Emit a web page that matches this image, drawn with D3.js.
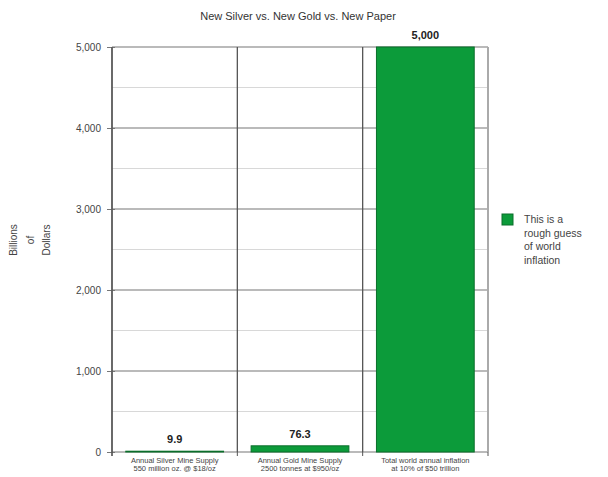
<!DOCTYPE html>
<html>
<head>
<meta charset="utf-8">
<script src="https://cdn.jsdelivr.net/npm/d3@7"></script>
<style>
  body { margin: 0; background: #fff; }
  text { font-family: "Liberation Sans", Arial, sans-serif; }
</style>
</head>
<body>
<div id="chart"></div>
<script>
const categories = ["silver", "gold", "paper"];
const categoryLines = [
  ["Annual Silver Mine Supply", "550 million oz. @ $18/oz"],
  ["Annual Gold Mine Supply", "2500 tonnes at $950/oz"],
  ["Total world annual inflation", "at 10% of $50 trillion"]
];
const values = [9.9, 76.3, 5000];
const valueLabels = ["9.9", "76.3", "5,000"];
const yTicks = [0, 1000, 2000, 3000, 4000, 5000];
const yMinorTicks = [500, 1500, 2500, 3500, 4500];
const legendLines = ["This is a", "rough guess", "of world", "inflation"];

const width = 608, height = 477;
const margin = { top: 47, right: 120, bottom: 25, left: 112 };
const innerW = width - margin.left - margin.right;
const innerH = height - margin.top - margin.bottom;

const svg = d3.select("#chart").append("svg")
  .attr("width", width)
  .attr("height", height);

const g = svg.append("g").attr("transform", `translate(${margin.left},${margin.top})`);

const x = d3.scaleBand().domain(categories).range([0, innerW]).paddingInner(0.22).paddingOuter(0.11);
const y = d3.scaleLinear().domain([0, 5000]).range([innerH, 0]);
const step = x.step();
const x0 = x(categories[0]) - x.paddingOuter() * step;

// minor grid
g.selectAll(".minor").data(yMinorTicks).enter().append("line")
  .attr("x1", 0).attr("x2", innerW)
  .attr("y1", d => y(d)).attr("y2", d => y(d))
  .attr("stroke", "#d8d8d8").attr("stroke-width", 1);

// major grid
g.selectAll(".major").data(yTicks).enter().append("line")
  .attr("x1", 0).attr("x2", innerW)
  .attr("y1", d => y(d)).attr("y2", d => y(d))
  .attr("stroke", "#777").attr("stroke-width", 1.2);

// vertical category dividers
g.selectAll(".vdiv").data(d3.range(categories.length + 1)).enter().append("line")
  .attr("x1", i => x0 + i * step).attr("x2", i => x0 + i * step)
  .attr("y1", 0).attr("y2", innerH)
  .attr("stroke", i => i === categories.length ? "#aaa" : "#555")
  .attr("stroke-width", i => i === categories.length ? 2 : 1.3);

// bars
g.selectAll(".bar").data(values).enter().append("rect")
  .attr("x", (d, i) => x(categories[i]))
  .attr("y", d => y(d))
  .attr("width", x.bandwidth())
  .attr("height", d => innerH - y(d))
  .attr("fill", "#0c9b3a")
  .attr("stroke", "#0a6e2a")
  .attr("stroke-width", 1);

// value labels
g.selectAll(".vlab").data(valueLabels).enter().append("text")
  .attr("x", (d, i) => x(categories[i]) + x.bandwidth() / 2)
  .attr("y", (d, i) => y(values[i]) - 8)
  .attr("text-anchor", "middle")
  .attr("font-size", 11)
  .attr("font-weight", "bold")
  .attr("fill", "#222")
  .text(d => d);

// y axis
const yAxis = g.append("g")
  .call(d3.axisLeft(y).tickValues(yTicks).tickSize(5).tickPadding(6).tickFormat(d3.format(",")));
yAxis.select(".domain").remove();
yAxis.selectAll(".tick line").attr("stroke", "#777").attr("x2", 3).attr("x1", -5);
yAxis.selectAll(".tick text").attr("font-size", 10).attr("fill", "#444")
  .style("font-family", "Liberation Sans, Arial, sans-serif");
g.append("line").attr("x1", 0).attr("x2", 0).attr("y1", 0).attr("y2", innerH + 4)
  .attr("stroke", "#555").attr("stroke-width", 1.3);

// bottom ticks at dividers
g.selectAll(".btick").data(d3.range(categories.length + 1)).enter().append("line")
  .attr("x1", i => x0 + i * step).attr("x2", i => x0 + i * step)
  .attr("y1", innerH).attr("y2", innerH + 4)
  .attr("stroke", "#555");

// category labels
categoryLines.forEach((lines, i) => {
  const cx = x0 + (i + 0.5) * step;
  const t = g.append("text")
    .attr("x", cx)
    .attr("y", innerH + 11)
    .attr("text-anchor", "middle")
    .attr("font-size", 7.5)
    .attr("fill", "#444");
  lines.forEach((l, j) => {
    t.append("tspan").attr("x", cx)
      .attr("dy", j === 0 ? 0 : 8).text(l);
  });
});

// title
svg.append("text")
  .attr("x", 298).attr("y", 20)
  .attr("text-anchor", "middle")
  .attr("font-size", 11)
  .attr("fill", "#333")
  .text("New Silver vs. New Gold vs. New Paper");

// y axis label (three rotated lines)
["Billions", "of", "Dollars"].forEach((w, i) => {
  svg.append("text")
    .attr("transform", `translate(${17 + i * 16.5},240) rotate(-90)`)
    .attr("text-anchor", "middle")
    .attr("font-size", 10)
    .attr("fill", "#444")
    .text(w);
});

// legend
svg.append("rect")
  .attr("x", 502).attr("y", 214).attr("width", 11).attr("height", 11)
  .attr("fill", "#0c9b3a").attr("stroke", "#0a6e2a");
const lt = svg.append("text").attr("x", 524).attr("y", 223)
  .attr("font-size", 10.5).attr("fill", "#444");
legendLines.forEach((l, j) => {
  lt.append("tspan").attr("x", 524).attr("dy", j === 0 ? 0 : 13.5).text(l);
});
</script>
</body>
</html>
